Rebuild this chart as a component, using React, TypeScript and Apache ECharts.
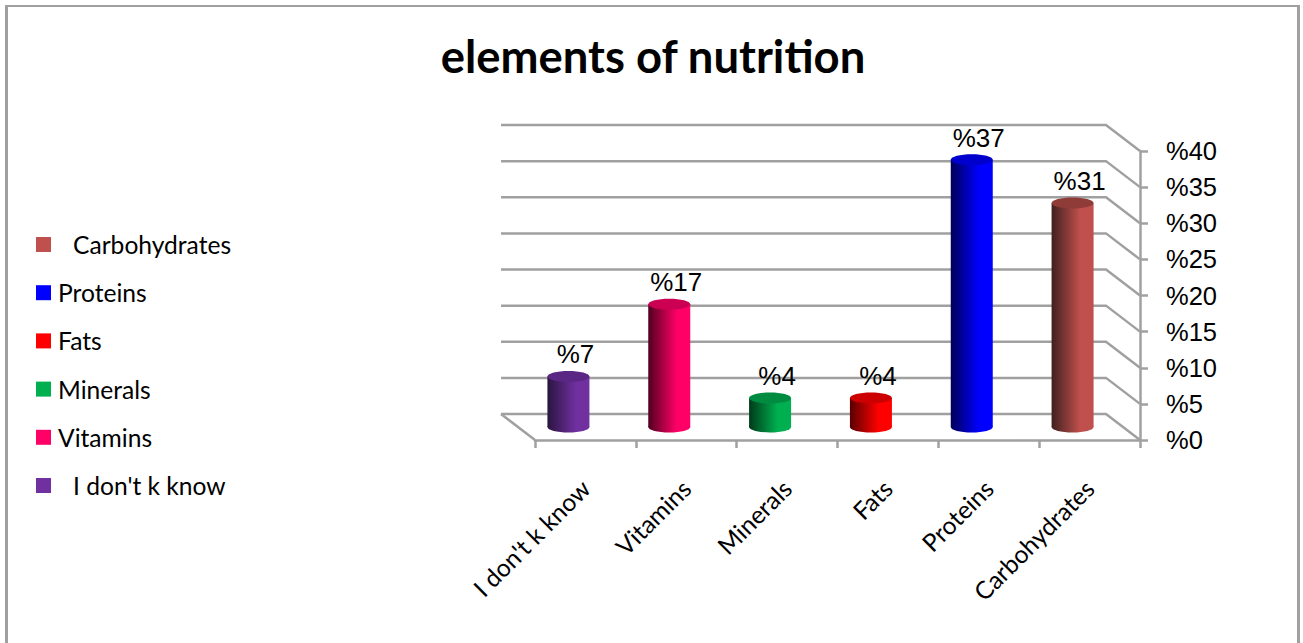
import React, { useEffect, useRef } from "react";
import * as echarts from "echarts";

const categories = ["I don't k know", "Vitamins", "Minerals", "Fats", "Proteins", "Carbohydrates"];
const values = [7, 17, 4, 4, 37, 31];
const baseColors = ["#7030A0", "#FF0066", "#00B050", "#FF0000", "#0000FF", "#C0504D"];
const darkColors = ["#2A1440", "#50001F", "#003A1A", "#580000", "#000058", "#40201F"];
const topColors = ["#5A2785", "#CC0052", "#008C40", "#CC0000", "#0000CC", "#8F3C39"];
const legendOrder = ["Carbohydrates", "Proteins", "Fats", "Minerals", "Vitamins", "I don't k know"];
const indentedLegend = ["Carbohydrates", "I don't k know"];
const axisTicks = [0, 5, 10, 15, 20, 25, 30, 35, 40];

const GRID = "#A0A0A0";
const DEPTH_X = -34;
const DEPTH_Y = -26;
const LATIN = "Lato, 'Open Sans', sans-serif";
const ARIAL = "'Liberation Sans', Arial, sans-serif";

export default function App() {
  const ref = useRef<HTMLDivElement>(null);
  useEffect(() => {
    document.body.style.margin = "0";
    const chart = echarts.init(ref.current!, null, { renderer: "svg" });

    const wallSeries: any = {
      type: "custom",
      name: "wall",
      silent: true,
      z: 1,
      clip: false,
      data: axisTicks.map((v) => [0, v]),
      encode: { x: 0, y: 1 },
      renderItem: (params: any, api: any) => {
        const cs = params.coordSys;
        const y = api.coord([0, api.value(1)])[1];
        const left = cs.x;
        const right = cs.x + cs.width;
        const children: any[] = [
          {
            type: "polyline",
            shape: {
              points: [
                [left + DEPTH_X, y + DEPTH_Y],
                [right + DEPTH_X, y + DEPTH_Y],
                [right, y],
              ],
            },
            style: { stroke: GRID, lineWidth: 2.5, fill: "none" },
          },
        ];
        if (api.value(1) === 0) {
          children.push({
            type: "line",
            shape: { x1: left + DEPTH_X, y1: y + DEPTH_Y, x2: left, y2: y },
            style: { stroke: GRID, lineWidth: 2.5 },
          });
        }
        return { type: "group", children };
      },
    };

    const cylinderSeries: any[] = categories.map((name, i) => ({
      type: "custom",
      name,
      z: 3,
      clip: false,
      data: [[i, values[i]]],
      encode: { x: 0, y: 1 },
      itemStyle: { color: baseColors[i] },
      renderItem: (_p: any, api: any) => {
        const top = api.coord([api.value(0), api.value(1)]);
        const base = api.coord([api.value(0), 0]);
        const cx = top[0] + DEPTH_X / 2;
        const yTop = top[1] + DEPTH_Y / 2;
        const yBase = base[1] + DEPTH_Y / 2;
        const rx = 21;
        const ry = 5.5;
        const fill = {
          type: "linear",
          x: 0,
          y: 0,
          x2: 1,
          y2: 0,
          colorStops: [
            { offset: 0, color: darkColors[i] },
            { offset: 0.68, color: baseColors[i] },
            { offset: 1, color: baseColors[i] },
          ],
        };
        return {
          type: "group",
          children: [
            { type: "ellipse", shape: { cx, cy: yBase, rx, ry }, style: { fill } },
            { type: "rect", shape: { x: cx - rx, y: yTop, width: rx * 2, height: yBase - yTop }, style: { fill } },
            { type: "ellipse", shape: { cx, cy: yTop, rx, ry }, style: { fill: topColors[i] } },
            {
              type: "text",
              x: cx + 7,
              y: yTop - 22,
              style: {
                text: "%" + api.value(1),
                fill: "#000",
                font: `26px ${ARIAL}`,
                align: "center",
                verticalAlign: "middle",
              },
            },
          ],
        };
      },
    }));

    chart.setOption({
      animation: false,
      backgroundColor: "#FFFFFF",
      title: {
        text: "elements of nutrition",
        left: 648,
        top: 28,
        textAlign: "center",
        textStyle: { fontFamily: LATIN, fontWeight: "bold", fontSize: 45.4, color: "#000" },
      },
      legend: {
        orient: "vertical",
        left: 36,
        top: 232,
        padding: 0,
        icon: "rect",
        itemWidth: 15,
        itemHeight: 15,
        itemGap: 23.2,
        data: legendOrder.map((name) => ({
          name,
          itemStyle: { color: baseColors[categories.indexOf(name)] },
        })),
        formatter: (name: string) => (indentedLegend.includes(name) ? `{pad|${name}}` : name),
        textStyle: {
          fontFamily: LATIN,
          fontSize: 24.6,
          color: "#000",
          lineHeight: 24,
          padding: [0, 0, 0, 2],
          rich: { pad: { padding: [0, 0, 0, 15], fontFamily: LATIN, fontSize: 24.6, lineHeight: 24, color: "#000" } },
        },
        selectedMode: false,
      },
      grid: { left: 535, right: 163, top: 151, bottom: 203, containLabel: false },
      xAxis: {
        type: "category",
        data: categories,
        axisLine: { lineStyle: { color: GRID, width: 2.5 } },
        axisTick: { show: true, length: 8, lineStyle: { color: GRID, width: 2.5 } },
        axisLabel: {
          rotate: 45,
          interval: 0,
          margin: 44,
          fontFamily: LATIN,
          fontSize: 24.6,
          color: "#000",
        },
      },
      yAxis: {
        type: "value",
        position: "right",
        min: 0,
        max: 40,
        interval: 5,
        axisLine: { show: true, lineStyle: { color: GRID, width: 2.5 } },
        axisTick: { show: true, length: 8, lineStyle: { color: GRID, width: 2.5 } },
        splitLine: { show: false },
        axisLabel: {
          margin: 26,
          formatter: "%{value}",
          fontFamily: ARIAL,
          fontSize: 25.5,
          color: "#000",
        },
      },
      graphic: [
        { type: "line", silent: true, shape: { x1: 6.5, y1: 5, x2: 6.5, y2: 643 }, style: { stroke: GRID, lineWidth: 3 } },
        { type: "line", silent: true, shape: { x1: 5, y1: 6, x2: 1300, y2: 6 }, style: { stroke: GRID, lineWidth: 2 } },
        { type: "line", silent: true, shape: { x1: 1298.5, y1: 5, x2: 1298.5, y2: 643 }, style: { stroke: GRID, lineWidth: 3 } },
      ],
      series: [wallSeries, ...cylinderSeries],
    });
    return () => chart.dispose();
  }, []);
  return <div ref={ref} style={{ position: "fixed", left: 0, top: 0, width: 1303, height: 643 }} />;
}
